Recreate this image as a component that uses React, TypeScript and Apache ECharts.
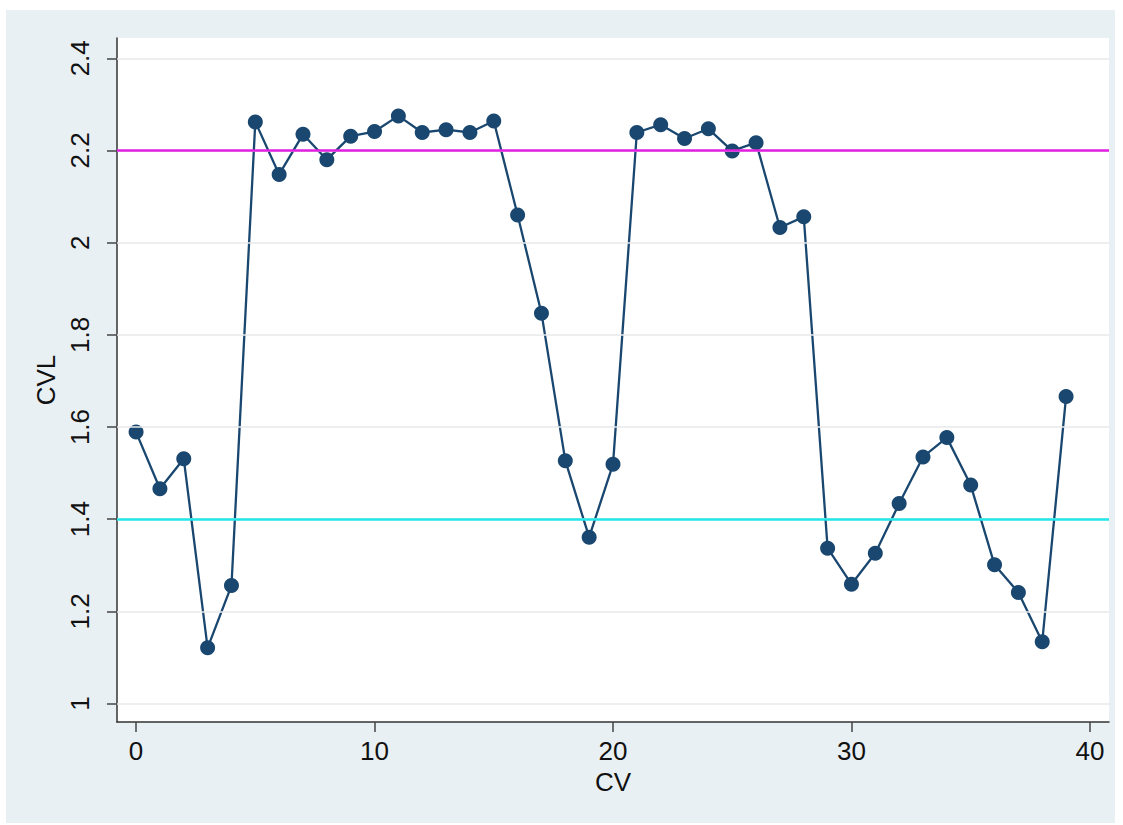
import { useEffect, useRef } from "react";
import * as echarts from "echarts";

// CV index along the x axis
const cv = [
  0, 1, 2, 3, 4, 5, 6, 7, 8, 9, 10, 11, 12, 13, 14, 15, 16, 17, 18, 19, 20,
  21, 22, 23, 24, 25, 26, 27, 28, 29, 30, 31, 32, 33, 34, 35, 36, 37, 38, 39,
];

// CVL value for each CV
const cvl = [
  1.589, 1.466, 1.531, 1.121, 1.256, 2.262, 2.148, 2.235, 2.18, 2.231, 2.241,
  2.275, 2.239, 2.245, 2.239, 2.264, 2.06, 1.847, 1.527, 1.361, 1.519, 2.239,
  2.256, 2.226, 2.247, 2.199, 2.217, 2.033, 2.056, 1.337, 1.259, 1.326, 1.434,
  1.535, 1.577, 1.474, 1.301, 1.241, 1.134, 1.666,
];

const xTicks = [0, 10, 20, 30, 40];
const yTicks = [1, 1.2, 1.4, 1.6, 1.8, 2, 2.2, 2.4];

// Horizontal reference levels
const upperLevel = 2.2;
const lowerLevel = 1.4;

const FONT = "Liberation Sans, Arial, Helvetica, sans-serif";
const NAVY = "#1a476f";

export default function App() {
  const ref = useRef<HTMLDivElement>(null);

  useEffect(() => {
    if (!ref.current) return;
    const chart = echarts.init(ref.current, undefined, { renderer: "svg" });

    const points = cv.map((x, i) => [x, cvl[i]]);

    chart.setOption({
      animation: false,
      backgroundColor: "#e9f0f3",
      textStyle: { fontFamily: FONT },
      grid: {
        left: 111,
        top: 28,
        width: 992,
        height: 684,
        show: true,
        backgroundColor: "#ffffff",
        borderWidth: 0,
      },
      xAxis: {
        type: "value",
        min: -0.8,
        max: 40.8,
        name: "CV",
        nameLocation: "middle",
        nameGap: 46,
        nameTextStyle: { fontSize: 26, color: "#111", fontFamily: FONT },
        axisLine: {
          show: true,
          onZero: false,
          lineStyle: { color: "#333", width: 1.5 },
        },
        axisTick: {
          show: true,
          length: 10,
          customValues: xTicks,
          lineStyle: { color: "#444", width: 1.5 },
        },
        axisLabel: {
          customValues: xTicks,
          fontSize: 26,
          color: "#111",
          fontFamily: FONT,
          margin: 16,
        },
        splitLine: { show: false },
      },
      yAxis: {
        type: "value",
        min: 0.96,
        max: 2.444,
        name: "CVL",
        nameLocation: "middle",
        nameRotate: 90,
        nameGap: 55,
        nameTextStyle: { fontSize: 26, color: "#111", fontFamily: FONT },
        axisLine: {
          show: true,
          onZero: false,
          lineStyle: { color: "#333", width: 1.5 },
        },
        axisTick: {
          show: true,
          length: 10,
          customValues: yTicks,
          lineStyle: { color: "#444", width: 1.5 },
        },
        axisLabel: {
          customValues: yTicks,
          rotate: 90,
          fontSize: 26,
          color: "#111",
          fontFamily: FONT,
          margin: 24,
        },
        splitLine: { show: false },
      },
      series: [
        {
          // light horizontal grid at each y tick
          type: "line",
          data: [],
          z: 1,
          silent: true,
          markLine: {
            silent: true,
            symbol: ["none", "none"],
            label: { show: false },
            lineStyle: { color: "#e6e9eb", width: 1.5, type: "solid" },
            data: yTicks.map((v) => ({ yAxis: v })),
          },
        },
        {
          // reference levels
          type: "line",
          data: [],
          z: 2,
          silent: true,
          markLine: {
            silent: true,
            symbol: ["none", "none"],
            label: { show: false },
            lineStyle: { width: 2.5, type: "solid" },
            data: [
              { yAxis: upperLevel, lineStyle: { color: "#e21fe0" } },
              { yAxis: lowerLevel, lineStyle: { color: "#22e6e8" } },
            ],
          },
        },
        {
          type: "line",
          data: points,
          z: 3,
          symbol: "circle",
          symbolSize: 15,
          showAllSymbol: true,
          itemStyle: { color: NAVY, borderWidth: 0 },
          lineStyle: { color: NAVY, width: 2.3 },
        },
      ],
    });

    return () => chart.dispose();
  }, []);

  return (
    <div
      style={{
        position: "absolute",
        left: 0,
        top: 0,
        width: 1123,
        height: 825,
        background: "#ffffff",
      }}
    >
      <div
        ref={ref}
        style={{ position: "absolute", left: 6, top: 10, width: 1109, height: 813 }}
      />
    </div>
  );
}
